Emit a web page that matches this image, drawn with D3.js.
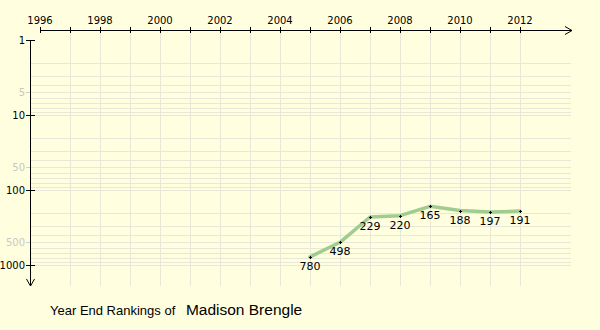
<!DOCTYPE html>
<html>
<head>
<meta charset="utf-8">
<script src="https://cdn.jsdelivr.net/npm/d3@7"></script>
<style>
  html, body { margin: 0; padding: 0; background: #ffffe0; }
  svg { display: block; font-family: "DejaVu Sans", Verdana, sans-serif; }
</style>
</head>
<body>
<svg id="chart" width="600" height="330"></svg>
<script>
// Year-end ranking history
const years = [2005, 2006, 2007, 2008, 2009, 2010, 2011, 2012];
const ranks = [780, 498, 229, 220, 165, 188, 197, 191];

// Axis labels
const yearTicks = [1996, 1998, 2000, 2002, 2004, 2006, 2008, 2010, 2012];
const rankMajor = [1, 10, 100, 1000];
const rankMinor = [5, 50, 500];

const playerName = "Madison Brengle";

const svg = d3.select("#chart");
const bg = "#ffffe0";
svg.append("rect").attr("width", 600).attr("height", 330).attr("fill", bg);

const x = d3.scaleLinear().domain([1996, 2012]).range([40, 520]);
const y = d3.scaleLog().domain([1, 1000]).range([40, 265]);

const axisY = 30;   // top year axis
const axisX = 30;   // left rank axis
const gridRight = 571;
const gridBottom = 286;

// Grid
const grid = svg.append("g").attr("stroke", "#e8e8d8").attr("stroke-width", 1);
const hLines = [];
for (let d = 1; d <= 100; d *= 10) {
  for (let k = 1; k <= 10; k++) hLines.push(d * k);
}
Array.from(new Set(hLines)).filter(v => v > 1).forEach(v => {
  grid.append("line")
    .attr("x1", axisX).attr("x2", gridRight)
    .attr("y1", Math.round(y(v)) + 0.5).attr("y2", Math.round(y(v)) + 0.5);
});
d3.range(1997, 2013).forEach(yr => {
  grid.append("line")
    .attr("x1", Math.round(x(yr)) + 0.5).attr("x2", Math.round(x(yr)) + 0.5)
    .attr("y1", axisY).attr("y2", gridBottom);
});

// Top year axis
const yearAxis = svg.append("g").attr("stroke", "#000").attr("stroke-width", 1);
yearAxis.append("line").attr("x1", 40).attr("x2", 572).attr("y1", axisY + 0.5).attr("y2", axisY + 0.5);
yearAxis.append("path").attr("fill", "none")
  .attr("d", `M565,${axisY - 3.5}L572,${axisY + 0.5}L565,${axisY + 4.5}`);
d3.range(1996, 2013).forEach(yr => {
  const px = Math.round(x(yr)) + 0.5;
  yearAxis.append("line").attr("x1", px).attr("x2", px).attr("y1", axisY - 3).attr("y2", axisY + 3);
});
svg.append("g").selectAll("text").data(yearTicks).join("text")
  .attr("x", d => x(d)).attr("y", 24)
  .attr("text-anchor", "middle").attr("font-size", 10).attr("fill", "#000")
  .text(d => d);

// Left rank axis
const rankAxis = svg.append("g").attr("stroke", "#000").attr("stroke-width", 1);
rankAxis.append("line").attr("x1", axisX + 0.5).attr("x2", axisX + 0.5).attr("y1", 40).attr("y2", 286);
rankAxis.append("path").attr("fill", "none")
  .attr("d", `M${axisX - 3.5},279L${axisX + 0.5},286L${axisX + 4.5},279`);
rankMajor.forEach(r => {
  const py = Math.round(y(r)) + 0.5;
  rankAxis.append("line").attr("x1", axisX - 4).attr("x2", axisX + 5).attr("y1", py).attr("y2", py);
});
rankMinor.forEach(r => {
  const py = Math.round(y(r)) + 0.5;
  svg.append("line").attr("stroke", "#d0d0c8").attr("x1", axisX - 4).attr("x2", axisX).attr("y1", py).attr("y2", py);
});
svg.append("g").selectAll("text").data(rankMajor).join("text")
  .attr("x", axisX - 5).attr("y", d => y(d) + 4)
  .attr("text-anchor", "end").attr("font-size", 10).attr("fill", "#000")
  .text(d => d);
svg.append("g").selectAll("text").data(rankMinor).join("text")
  .attr("x", axisX - 5).attr("y", d => y(d) + 4)
  .attr("text-anchor", "end").attr("font-size", 10).attr("fill", "#c8c8c0")
  .text(d => d);

// Ranking line
const pts = years.map((yr, i) => [x(yr), y(ranks[i])]);
svg.append("path")
  .attr("d", d3.line()(pts))
  .attr("fill", "none").attr("stroke", "#9fcc8f").attr("stroke-width", 3.5)
  .attr("stroke-linejoin", "round").attr("stroke-linecap", "round");

// Point markers
const marks = svg.append("g").attr("stroke", "#000").attr("stroke-width", 1);
pts.forEach(([px, py]) => {
  const cx = Math.round(px) + 0.5, cy = Math.round(py) + 0.5;
  marks.append("line").attr("x1", cx - 1.5).attr("x2", cx + 1.5).attr("y1", cy).attr("y2", cy);
  marks.append("line").attr("x1", cx).attr("x2", cx).attr("y1", cy - 1.5).attr("y2", cy + 1.5);
});

// Value labels
svg.append("g").selectAll("text").data(years).join("text")
  .attr("x", d => x(d)).attr("y", (d, i) => y(ranks[i]) + 13)
  .attr("text-anchor", "middle").attr("font-size", 11).attr("fill", "#000")
  .text((d, i) => ranks[i]);

// Title
const title = svg.append("text").attr("x", 50).attr("y", 315)
  .style("font-family", "'Liberation Sans', Arial, sans-serif").attr("fill", "#000");
title.append("tspan").attr("font-size", 13).text("Year End Rankings of ");
title.append("tspan").attr("font-size", 15.5).attr("dx", 7).text(playerName);
</script>
</body>
</html>
